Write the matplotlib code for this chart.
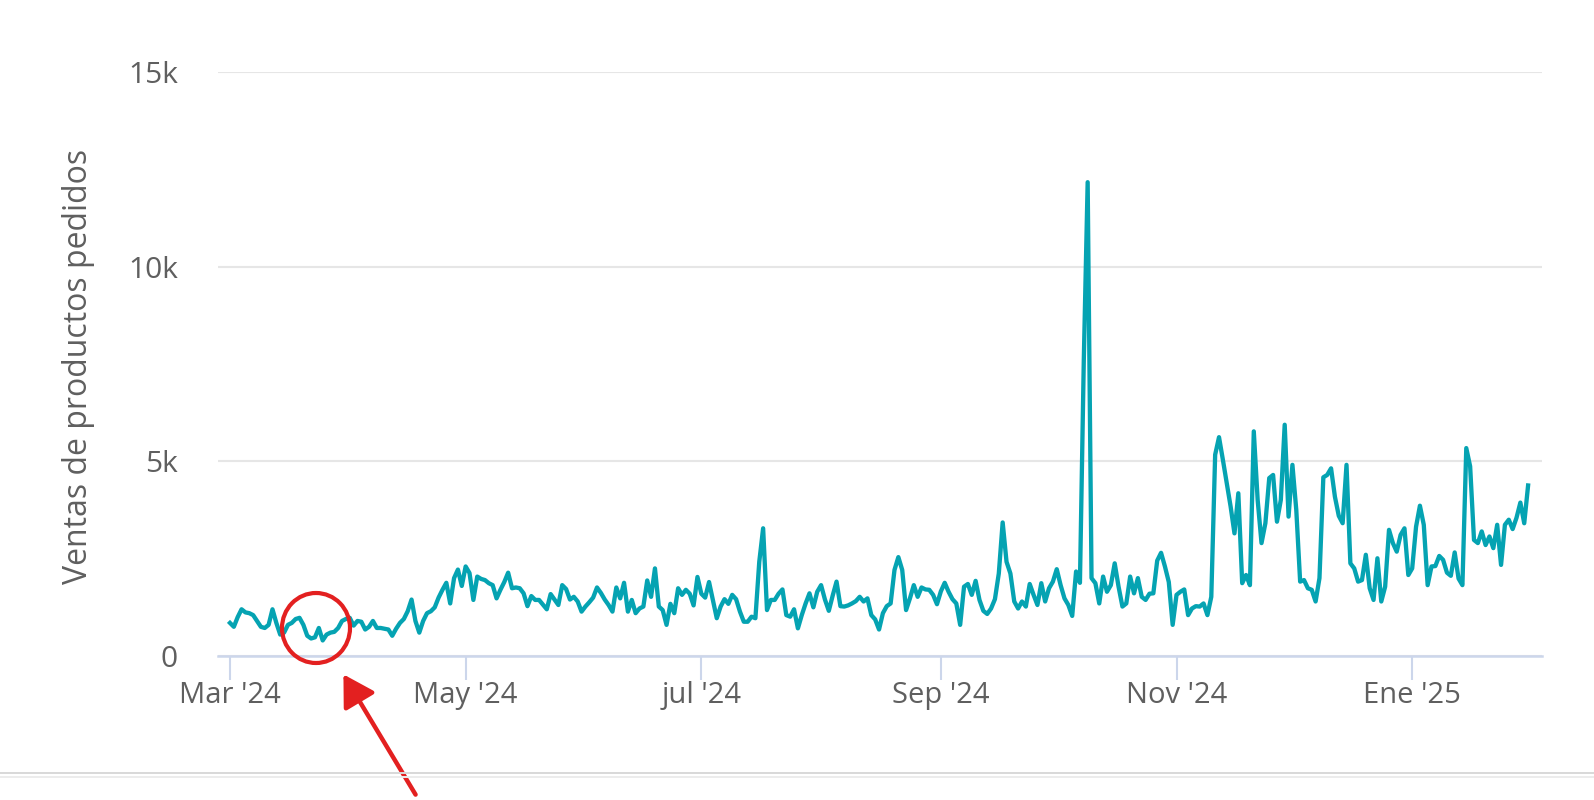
import numpy as np
import pandas as pd
import matplotlib
matplotlib.use("Agg")
import matplotlib.pyplot as plt
from matplotlib.patches import Ellipse
from matplotlib.lines import Line2D

plt.rcParams['font.family'] = ['Open Sans', 'DejaVu Sans']

# daily ordered product sales, one list per month (Mar 2024 - Jan 2025)
mar_24 = [850, 750, 1000, 1200, 1120, 1100, 1050, 900, 750, 720, 800, 1200, 850, 550, 600, 800,
          850, 950, 980, 800, 520, 450, 480, 720, 400, 550, 600, 620, 720, 900, 950]
apr_24 = [980, 780, 900, 880, 680, 750, 900, 720, 720, 700, 680, 520, 700, 850, 950, 1150,
          1450, 900, 600, 900, 1100, 1150, 1250, 1500, 1700, 1880, 1350, 2000, 2220, 1800]
may_24 = [2300, 2130, 1440, 2040, 1980, 1950, 1870, 1820, 1480, 1700, 1900, 2140, 1740, 1760,
          1740, 1610, 1280, 1540, 1440, 1440, 1320, 1200, 1590, 1450, 1310, 1820, 1720, 1450,
          1520, 1400, 1140]
jun_24 = [1270, 1380, 1500, 1760, 1620, 1450, 1310, 1140, 1760, 1480, 1880, 1140, 1440, 1100,
          1220, 1270, 1940, 1520, 2250, 1270, 1180, 800, 1340, 1100, 1740, 1570, 1700, 1600,
          1300, 2030]
jul_24 = [1600, 1500, 1900, 1440, 970, 1270, 1460, 1340, 1570, 1460, 1140, 880, 880, 1010, 970,
          2420, 3280, 1180, 1440, 1440, 1600, 1710, 1050, 1010, 1200, 710, 1050, 1350, 1610,
          1250, 1650]
aug_24 = [1820, 1450, 1160, 1550, 1910, 1280, 1270, 1300, 1350, 1410, 1520, 1400, 1480, 1050,
          940, 680, 1100, 1280, 1350, 2210, 2540, 2210, 1180, 1480, 1820, 1520, 1760, 1710,
          1700, 1570, 1330]
sep_24 = [1660, 1880, 1650, 1460, 1350, 800, 1780, 1850, 1570, 1930, 1440, 1160, 1080, 1220,
          1460, 2120, 3430, 2420, 2120, 1400, 1220, 1400, 1270, 1850, 1570, 1310, 1870, 1400,
          1740, 1910]
oct_24 = [2230, 1820, 1480, 1310, 1030, 2170, 1880, 7600, 12170, 2000, 1870, 1350, 2040, 1650,
          1820, 2380, 1780, 1270, 1350, 2040, 1610, 2000, 1520, 1440, 1600, 1610, 2450, 2650,
          2300, 1900, 800]
nov_24 = [1570, 1650, 1710, 1050, 1220, 1280, 1270, 1350, 1050, 1520, 5170, 5620, 5040, 4440,
          3840, 3150, 4180, 1870, 2080, 1820, 5770, 4010, 2900, 3410, 4570, 4650, 3450, 4010,
          5940, 3580]
dec_24 = [4910, 3750, 1910, 1950, 1740, 1700, 1400, 2000, 4590, 4650, 4820, 4090, 3600, 3410,
          4910, 2380, 2250, 1910, 1950, 2600, 1740, 1440, 2510, 1400, 1780, 3240, 2900, 2680,
          3110, 3280, 2080]
jan_25 = [2250, 3320, 3860, 3370, 1820, 2300, 2310, 2570, 2470, 2140, 2060, 2660, 1990, 1820,
          5340, 4870, 2980, 2900, 3200, 2850, 3070, 2770, 3370, 2340, 3370, 3500, 3260, 3550,
          3940, 3410, 4380]

tick_dates = ["2024-03-01", "2024-05-01", "2024-07-01", "2024-09-01", "2024-11-01", "2025-01-01"]
tick_labels = ["Mar '24", "May '24", "jul '24", "Sep '24", "Nov '24", "Ene '25"]
y_ticks = [0, 5000, 10000, 15000]
y_labels = ["0", "5k", "10k", "15k"]

sales = (mar_24 + apr_24 + may_24 + jun_24 + jul_24 + aug_24 + sep_24 + oct_24
         + nov_24 + dec_24 + jan_25)
days = pd.date_range("2024-03-01", periods=len(sales), freq="D")

W, H = 1594, 800
fig = plt.figure(figsize=(W / 100, H / 100), dpi=100)
ax = fig.add_axes([218 / W, 1 - 656 / H, (1542 - 218) / W, (656 - 72) / H])

ax.plot(days, sales, color="#05a3b2", lw=3.1, solid_joinstyle="round", zorder=3)

start = pd.Timestamp("2024-03-01")
ax.set_xlim(start - pd.Timedelta(days=3.1), start + pd.Timedelta(days=339.6))
ax.set_ylim(0, 15000)

ax.set_yticks(y_ticks)
ax.set_yticklabels(y_labels)
ax.set_xticks(pd.to_datetime(tick_dates))
ax.set_xticklabels(tick_labels)

ax.grid(axis="y", color="#e6e6e6", lw=1.5, zorder=0)
for s in ["top", "right", "left"]:
    ax.spines[s].set_visible(False)
ax.spines["bottom"].set_color("#ccd6eb")
ax.spines["bottom"].set_linewidth(1.8)
ax.spines["bottom"].set_zorder(4)

ax.tick_params(axis="y", length=0, pad=29, labelsize=21.5, labelcolor="#5f5f5f")
ax.tick_params(axis="x", length=17, width=1.5, color="#ccd6eb", pad=1,
               labelsize=21, labelcolor="#5f5f5f")

fig.text(79 / W, 1 - 366 / H, "Ventas de productos pedidos", rotation=90,
         ha="center", va="center", fontsize=23, color="#5f5f5f")

# red highlight circle and arrow
fig.add_artist(Ellipse((316 / W, 1 - 628 / H), 68 / W, 70 / H, transform=fig.transFigure,
                       fill=False, edgecolor="#e32020", lw=3, zorder=10))
ax.annotate("", xy=(342, H - 672), xytext=(417, H - 797), xycoords="figure pixels",
            textcoords="figure pixels", annotation_clip=False,
            arrowprops=dict(arrowstyle="-|>,head_length=0.85,head_width=0.5",
                            color="#e32020", lw=3.2, mutation_scale=22))

# page separator lines at the bottom
fig.add_artist(Line2D([0, 1], [1 - 773 / H] * 2, transform=fig.transFigure,
                      color="#d8d8d8", lw=1.4))
fig.add_artist(Line2D([0, 1], [1 - 777 / H] * 2, transform=fig.transFigure,
                      color="#ececec", lw=1.4))

fig.savefig("out.png", dpi=100)
